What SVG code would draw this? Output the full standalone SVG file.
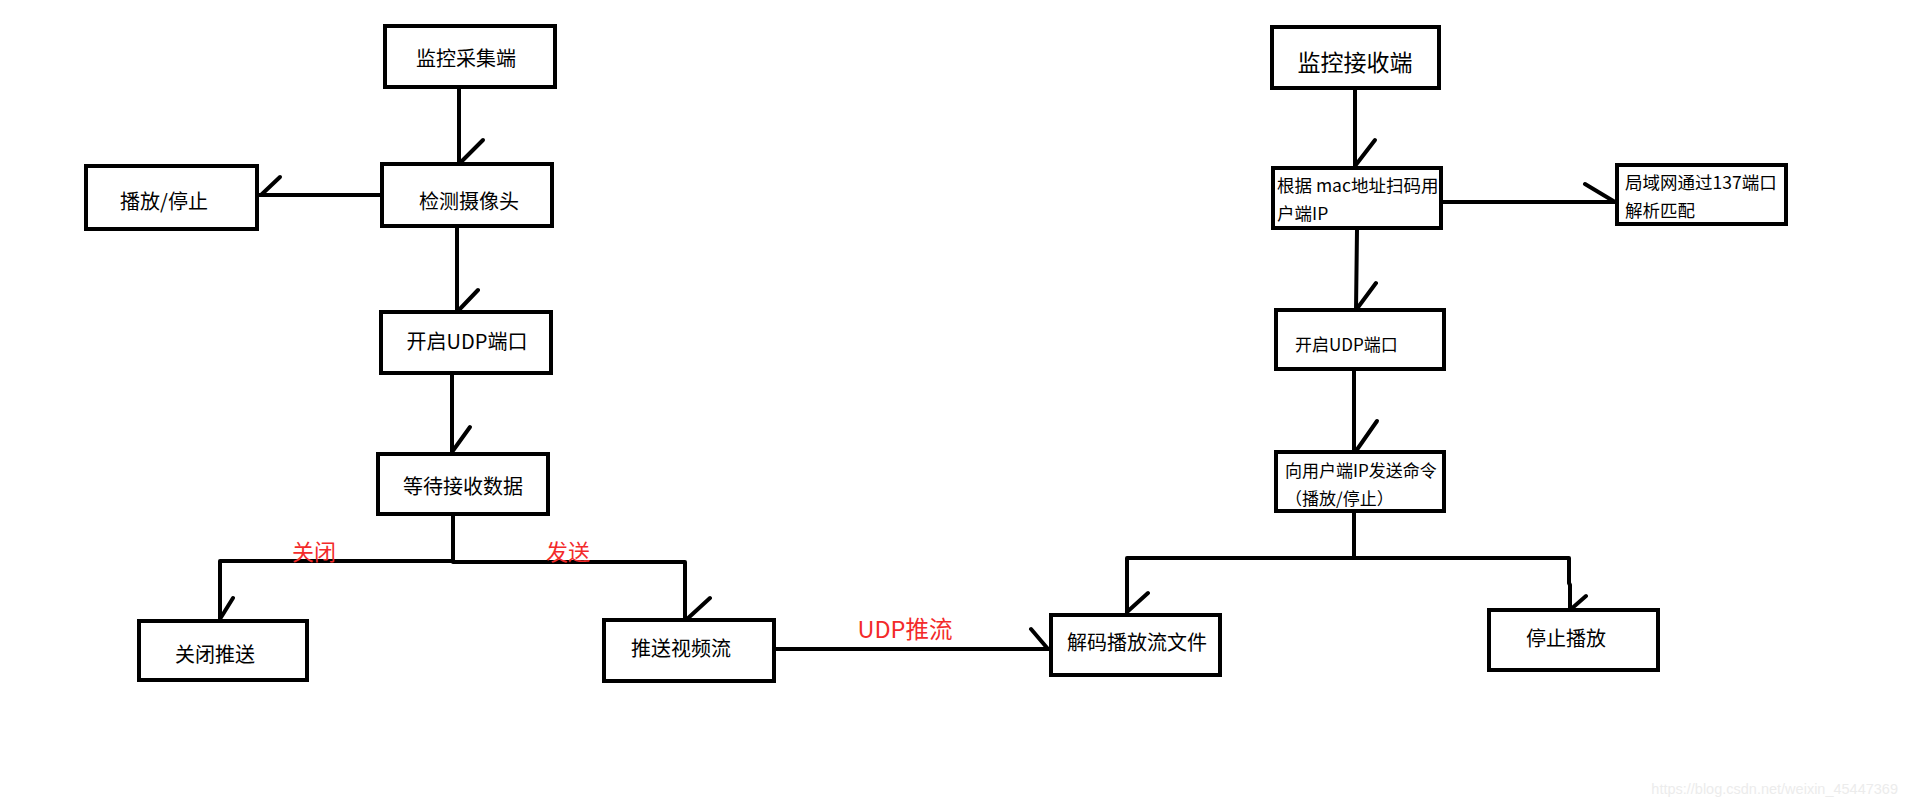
<svg xmlns="http://www.w3.org/2000/svg" width="1908" height="808" viewBox="0 0 1908 808">
<style>
.box{fill:#fff;stroke:#000;stroke-width:4}
.ln{fill:none;stroke:#000;stroke-width:4;stroke-linecap:round;stroke-linejoin:round}
.t{font-family:"Noto Sans CJK SC","Noto Sans",sans-serif;fill:#000;dominant-baseline:central}
.c{text-anchor:middle}
.lbl{font-family:"Noto Sans CJK SC","Noto Sans",sans-serif;fill:#f32a2a;dominant-baseline:central;text-anchor:middle}
</style>
<rect width="1908" height="808" fill="#fff"/>
<g id="connectors">
<path class="ln" d="M459 89V164M459 164L483 140"/>
<path class="ln" d="M380 195H259M261 195L280 177"/>
<path class="ln" d="M457 228V312M457 312L478 290"/>
<path class="ln" d="M452 375V454M452 452L470 427"/>
<path class="ln" d="M453 516V561M220 561H453M453 562H685M220 561V621M220 619L233 598M685 562V620M686 620L710 598"/>
<path class="ln" d="M776 649H1049M1048 649L1031 629"/>
<path class="ln" d="M1355 90V168M1355 166L1375 140"/>
<path class="ln" d="M1443 202H1615M1615 202L1585 184"/>
<path class="ln" d="M1357 230L1356 310M1356 310L1376 283"/>
<path class="ln" d="M1354 371V452M1356 451L1377 421"/>
<path class="ln" d="M1354 513V558M1127 558H1569M1127 558V615M1127 612L1148 593M1569 558V583L1570 585V610M1570 610L1586 596"/>
</g>
<g id="n1"><rect class="box" x="385" y="26" width="170" height="61"/><text class="t c" x="466" y="57" font-size="20">监控采集端</text></g>
<g id="n2"><rect class="box" x="382" y="164" width="170" height="62"/><text class="t c" x="469" y="200" font-size="20">检测摄像头</text></g>
<g id="n3"><rect class="box" x="86" y="166" width="171" height="63"/><text class="t c" x="164" y="200" font-size="20">播放/停止</text></g>
<g id="n4"><rect class="box" x="381" y="312" width="170" height="61"/><text class="t c" x="467" y="340" font-size="20">开启UDP端口</text></g>
<g id="n5"><rect class="box" x="378" y="454" width="170" height="60"/><text class="t c" x="463" y="485" font-size="20">等待接收数据</text></g>
<g id="n6"><rect class="box" x="139" y="621" width="168" height="59"/><text class="t c" x="215" y="653" font-size="20">关闭推送</text></g>
<g id="n7"><rect class="box" x="604" y="620" width="170" height="61"/><text class="t c" x="681" y="647" font-size="20">推送视频流</text></g>
<g id="n8"><rect class="box" x="1272" y="27" width="167" height="61"/><text class="t c" x="1355" y="61" font-size="23">监控接收端</text></g>
<g id="n9"><rect class="box" x="1273" y="168" width="168" height="60"/><text class="t" x="1277" y="184" font-size="17.5">根据 mac地址扫码用</text><text class="t" x="1277" y="212" font-size="17.5">户端IP</text></g>
<g id="n10"><rect class="box" x="1617" y="165" width="169" height="59"/><text class="t" x="1625" y="181" font-size="17.5">局域网通过137端口</text><text class="t" x="1625" y="209" font-size="17.5">解析匹配</text></g>
<g id="n11"><rect class="box" x="1276" y="310" width="168" height="59"/><text class="t" x="1295" y="343" font-size="17">开启UDP端口</text></g>
<g id="n12"><rect class="box" x="1276" y="452" width="168" height="59"/><text class="t" x="1285" y="469" font-size="17">向用户端IP发送命令</text><text class="t" x="1285" y="497" font-size="17">（播放/停止）</text></g>
<g id="n13"><rect class="box" x="1051" y="615" width="169" height="60"/><text class="t c" x="1137" y="641" font-size="20">解码播放流文件</text></g>
<g id="n14"><rect class="box" x="1489" y="610" width="169" height="60"/><text class="t c" x="1566" y="637" font-size="20">停止播放</text></g>
<g id="labels">
<text class="lbl" x="314" y="550" font-size="22">关闭</text>
<text class="lbl" x="568" y="550" font-size="22">发送</text>
<text class="lbl" x="905" y="628" font-size="23.5">UDP推流</text>
</g>
<text x="1898" y="789" font-family="Liberation Sans, Arial, sans-serif" font-size="14.5" fill="#ececec" text-anchor="end" dominant-baseline="central">https://blog.csdn.net/weixin_45447369</text>
</svg>
